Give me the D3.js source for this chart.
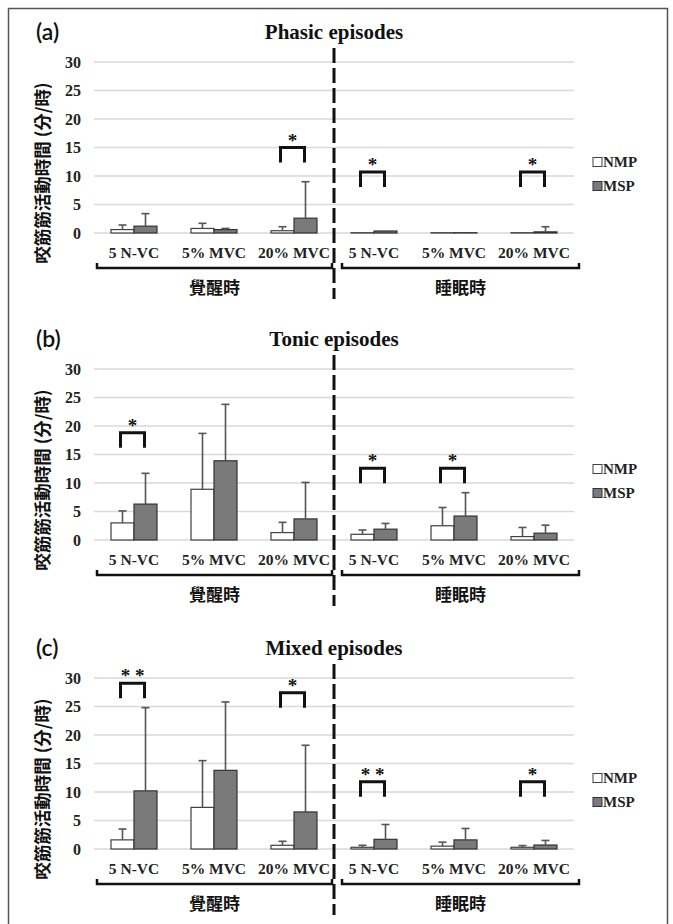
<!DOCTYPE html>
<html><head><meta charset="utf-8">
<script src="https://cdn.jsdelivr.net/npm/d3@7"></script>
<style>body{margin:0;background:#fff}svg{display:block}</style>
</head><body>
<script>
// ---- data ----
const categories = ["5 N-VC","5% MVC","20% MVC","5 N-VC ","5% MVC ","20% MVC "];
const categoryLabels = ["5 N-VC","5% MVC","20% MVC","5 N-VC","5% MVC","20% MVC"];
const groupLabels = ["覺醒時","睡眠時"];
const seriesNames = ["NMP","MSP"];
const panelTags = ["(a)","(b)","(c)"];
const panelTitles = ["Phasic episodes","Tonic episodes","Mixed episodes"];
const yTicks = [0,5,10,15,20,25,30];
const yTitle = "咬筋筋活動時間 (分/時)";

// means and upper error-bar ends (mean + SD)
const phasicNMP      = [0.6, 0.8, 0.4, 0.05, 0.05, 0.05];
const phasicNMPUpper = [1.4, 1.7, 1.1, 0.05, 0.05, 0.05];
const phasicMSP      = [1.2, 0.6, 2.6, 0.35, 0.05, 0.2];
const phasicMSPUpper = [3.4, 0.8, 9.0, 0.35, 0.05, 1.1];

const tonicNMP      = [3.0, 8.9, 1.3, 1.0, 2.5, 0.6];
const tonicNMPUpper = [5.1, 18.7, 3.1, 1.75, 5.7, 2.2];
const tonicMSP      = [6.3, 13.9, 3.7, 1.9, 4.2, 1.2];
const tonicMSPUpper = [11.7, 23.8, 10.1, 2.9, 8.3, 2.6];

const mixedNMP      = [1.6, 7.3, 0.65, 0.3, 0.5, 0.3];
const mixedNMPUpper = [3.5, 15.5, 1.35, 0.65, 1.2, 0.6];
const mixedMSP      = [10.2, 13.8, 6.5, 1.7, 1.6, 0.7];
const mixedMSPUpper = [24.8, 25.8, 18.2, 4.3, 3.6, 1.5];

// significance brackets: category index, bracket top value, marker
const phasicSig = [{cat:2, top:15.0, mark:"*"}, {cat:3, top:10.7, mark:"*"}, {cat:5, top:10.7, mark:"*"}];
const tonicSig  = [{cat:0, top:18.8, mark:"*"}, {cat:3, top:12.6, mark:"*"}, {cat:4, top:12.6, mark:"*"}];
const mixedSig  = [{cat:0, top:29.1, mark:"* *"}, {cat:2, top:27.4, mark:"*"}, {cat:3, top:11.8, mark:"* *"}, {cat:5, top:11.8, mark:"*"}];

const panels = [
  {nmp:phasicNMP, nmpU:phasicNMPUpper, msp:phasicMSP, mspU:phasicMSPUpper, sig:phasicSig},
  {nmp:tonicNMP,  nmpU:tonicNMPUpper,  msp:tonicMSP,  mspU:tonicMSPUpper,  sig:tonicSig},
  {nmp:mixedNMP,  nmpU:mixedNMPUpper,  msp:mixedMSP,  mspU:mixedMSPUpper,  sig:mixedSig}
];

// ---- layout ----
const W = 673, H = 924;
const zeroYs = [233, 540, 849];
const plotH = 171;
const serif = "'Liberation Serif','Times New Roman',serif";
const cjk = "'Noto Sans CJK TC','Noto Sans CJK SC',sans-serif";

const svg = d3.select("body").append("svg").attr("width", W).attr("height", H);

// outer frame
svg.append("path").attr("d", `M8.5,${H} V8.5 H667.5 V${H}`)
  .attr("fill","none").attr("stroke","#555").attr("stroke-width",1.5);

const x = d3.scaleBand().domain(categories).range([94, 574]).paddingInner(0.425).paddingOuter(0.2125);
const xs = d3.scaleBand().domain(seriesNames).range([0, x.bandwidth()]);
const dividerX = (x(categories[2]) + x.bandwidth() + x(categories[3])) / 2;

panels.forEach((p, pi) => {
  const z = zeroYs[pi];
  const y = d3.scaleLinear().domain([0, 30]).range([z, z - plotH]);
  const g = svg.append("g");

  // gridlines
  g.selectAll("line.grid").data(yTicks).join("line")
    .attr("x1", x.range()[0]).attr("x2", x.range()[1])
    .attr("y1", d => y(d)).attr("y2", d => y(d))
    .attr("stroke", "#d9d9d9").attr("stroke-width", 1.5);

  // y tick labels
  g.selectAll("text.yt").data(yTicks).join("text")
    .attr("x", 81).attr("y", d => y(d)).attr("dy", "0.35em")
    .attr("text-anchor", "end").attr("font-family", serif).attr("font-weight", "bold")
    .attr("font-size", 16).attr("fill", "#222").text(d => d);

  // y title
  g.append("text").attr("transform", `translate(49,${z - 60}) rotate(-90)`)
    .attr("text-anchor", "middle").attr("font-family", cjk).attr("font-weight", "bold")
    .attr("font-size", 17.5).attr("fill", "#111").text(yTitle);

  // panel tag and title
  g.append("text").attr("x", 36).attr("y", z - 193).attr("font-family", "Lato,'Open Sans',sans-serif")
    .attr("font-weight", 600).attr("font-size", 23).attr("fill", "#111").text(panelTags[pi]);
  g.append("text").attr("x", 334).attr("y", z - 194).attr("text-anchor", "middle")
    .attr("font-family", serif).attr("font-weight", "bold").attr("font-size", 21)
    .attr("fill", "#111").text(panelTitles[pi]);

  // bars
  const rows = categories.map((c, i) => ({c, i}));
  const series = [
    {name:"NMP", vals:p.nmp, up:p.nmpU, fill:"#ffffff", stroke:"#404040"},
    {name:"MSP", vals:p.msp, up:p.mspU, fill:"#7a7a7a", stroke:"#333333"}
  ];
  series.forEach(s => {
    g.selectAll(null).data(rows).join("rect")
      .attr("x", d => x(d.c) + xs(s.name)).attr("width", xs.bandwidth())
      .attr("y", d => y(s.vals[d.i])).attr("height", d => y(0) - y(s.vals[d.i]))
      .attr("fill", s.fill).attr("stroke", s.stroke).attr("stroke-width", 1.2);
  });
  // error bars
  series.forEach(s => {
    const eb = rows.filter(d => s.up[d.i] > s.vals[d.i] + 0.01);
    const cx = d => x(d.c) + xs(s.name) + xs.bandwidth() / 2;
    g.selectAll(null).data(eb).join("line")
      .attr("x1", cx).attr("x2", cx)
      .attr("y1", d => y(s.vals[d.i])).attr("y2", d => y(s.up[d.i]))
      .attr("stroke", "#555").attr("stroke-width", 1.6);
    g.selectAll(null).data(eb).join("line")
      .attr("x1", d => cx(d) - 4).attr("x2", d => cx(d) + 4)
      .attr("y1", d => y(s.up[d.i])).attr("y2", d => y(s.up[d.i]))
      .attr("stroke", "#555").attr("stroke-width", 1.6);
  });

  // significance brackets
  p.sig.forEach(s => {
    const c = categories[s.cat];
    const x1 = x(c) + xs("NMP") + xs.bandwidth() / 2 - 2;
    const x2 = x(c) + xs("MSP") + xs.bandwidth() / 2 - 1;
    const yt = y(s.top);
    g.append("path").attr("d", `M${x1},${yt + 15} V${yt} H${x2} V${yt + 15}`)
      .attr("fill", "none").attr("stroke", "#111").attr("stroke-width", 3);
    g.append("text").attr("x", (x1 + x2) / 2).attr("y", yt - 1).attr("text-anchor", "middle")
      .attr("font-family", serif).attr("font-weight", "bold").attr("font-size", 19)
      .attr("fill", "#111").text(s.mark);
  });

  // category labels
  g.selectAll(null).data(rows).join("text")
    .attr("x", d => x(d.c) + x.bandwidth() / 2).attr("y", z + 25)
    .attr("text-anchor", "middle").attr("font-family", serif).attr("font-weight", "bold")
    .attr("font-size", 15.5).attr("fill", "#222").text(d => categoryLabels[d.i]);

  // group braces
  const braces = [
    {x1: x.range()[0] + 3, x2: dividerX - 2, label: groupLabels[0]},
    {x1: dividerX + 8, x2: x.range()[1] + 5, label: groupLabels[1]}
  ];
  braces.forEach(b => {
    g.append("path").attr("d", `M${b.x1},${z + 30} V${z + 35} H${b.x2} V${z + 30}`)
      .attr("fill", "none").attr("stroke", "#111").attr("stroke-width", 2.5);
    g.append("text").attr("x", (b.x1 + b.x2) / 2).attr("y", z + 61).attr("text-anchor", "middle")
      .attr("font-family", cjk).attr("font-weight", "bold").attr("font-size", 17)
      .attr("fill", "#111").text(b.label);
  });

  // divider
  g.append("line").attr("x1", dividerX).attr("x2", dividerX)
    .attr("y1", z - 185).attr("y2", Math.min(z + 66, H))
    .attr("stroke", "#111").attr("stroke-width", 3).attr("stroke-dasharray", "15,5");

  // legend
  const leg = g.append("g");
  series.forEach((s, k) => {
    const ly = z - 71 + k * 24;
    leg.append("rect").attr("x", 593).attr("y", ly - 4.5).attr("width", 9).attr("height", 9)
      .attr("fill", s.fill).attr("stroke", s.stroke).attr("stroke-width", 1);
    leg.append("text").attr("x", 603).attr("y", ly).attr("dy", "0.35em")
      .attr("font-family", serif).attr("font-weight", "bold").attr("font-size", 15)
      .attr("fill", "#222").text(s.name);
  });
});
</script>
</body></html>
